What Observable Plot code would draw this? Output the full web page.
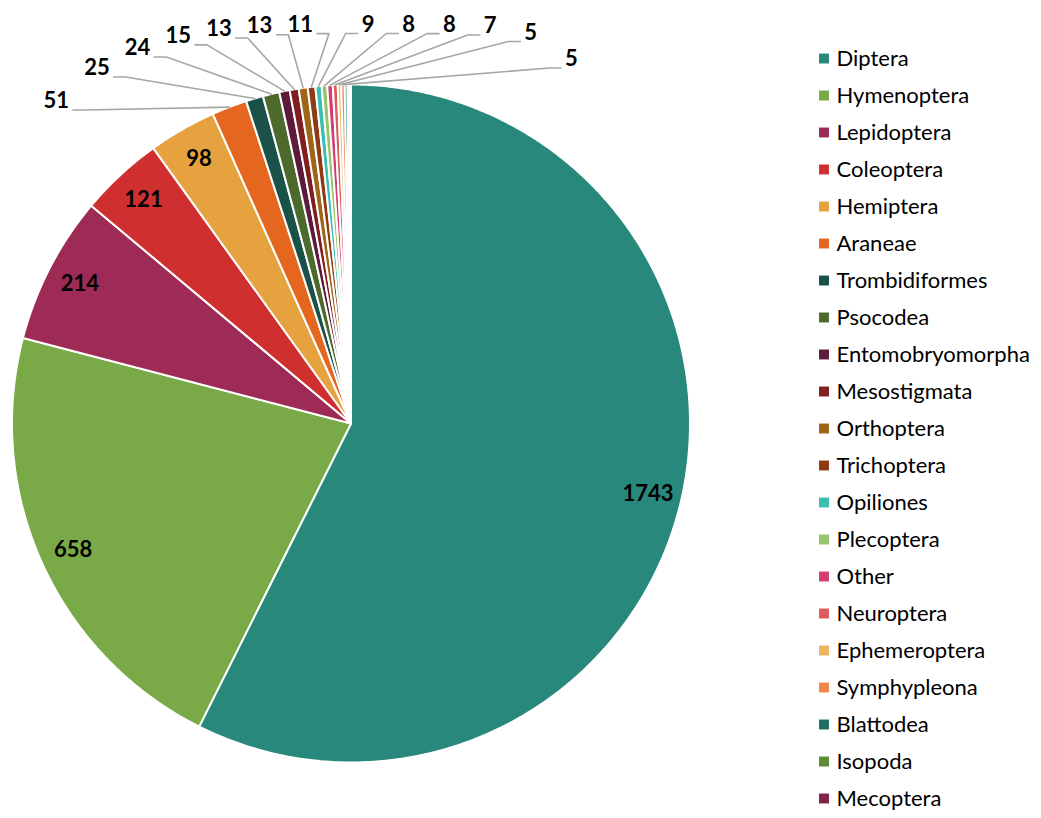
<!DOCTYPE html>
<html><head><meta charset="utf-8">
<script src="https://cdn.jsdelivr.net/npm/d3@7"></script>
<script src="https://cdn.jsdelivr.net/npm/@observablehq/plot@0.6"></script>
<style>
html,body{margin:0;padding:0;background:#fff;}
#wrap{position:relative;width:1041px;height:818px;overflow:hidden;}
#pie{position:absolute;left:0;top:0;}
#legend{position:absolute;left:800px;top:0;}
</style></head><body>
<div id="wrap"><div id="pie"></div><div id="legend"></div></div>
<script>
// ---- data ----
const categories = ["Diptera","Hymenoptera","Lepidoptera","Coleoptera","Hemiptera","Araneae","Trombidiformes","Psocodea","Entomobryomorpha","Mesostigmata","Orthoptera","Trichoptera","Opiliones","Plecoptera","Other","Neuroptera","Ephemeroptera","Symphypleona","Blattodea","Isopoda","Mecoptera"];
const counts = [1743,658,214,121,98,51,25,24,15,13,13,11,9,8,8,7,5,5,4,3,2];
const palette = ["#28887C","#7AAA48","#9E2A56","#CF2F2F","#E6A23F","#E5671F","#1A5249","#4B6A2C","#5E1A3B","#801F22","#9F6517","#8E3A13","#38BFAE","#97C369","#D43B73","#DD5A5A","#EDB762","#EF894B","#1F6E62","#5F8B38","#7E2347"];
const insideLabelCount = 5;   // largest slices labelled inside
const outsideLabelCount = 13; // next slices labelled with leader lines

// ---- geometry ----
const R_PX = 339;
const total = d3.sum(counts);
let cum = 0;
const slices = categories.map((c, i) => {
  const a0 = cum / total * 2 * Math.PI;
  cum += counts[i];
  const a1 = cum / total * 2 * Math.PI;
  return {c, v: counts[i], i, a0, a1, mid: (a0 + a1) / 2};
});

const polyPts = [];
for (const s of slices) {
  const n = Math.max(2, Math.ceil((s.a1 - s.a0) / (Math.PI / 360)));
  polyPts.push({c: s.c, x: 0, y: 0});
  for (let k = 0; k <= n; k++) {
    const a = s.a0 + (s.a1 - s.a0) * k / n;
    polyPts.push({c: s.c, x: Math.sin(a), y: Math.cos(a)});
  }
  polyPts.push({c: s.c, x: 0, y: 0});
}

const inside = slices.slice(0, insideLabelCount).map(s => ({
  text: String(s.v), x: 0.9 * Math.sin(s.mid), y: 0.9 * Math.cos(s.mid)
}));

// outside labels spread along a flattened (superelliptic) arc above the pie
const arcLeft = -278 / R_PX, arcRight = 210 / R_PX, arcB = 390 / R_PX;
const leftShape = {a: 355 / R_PX, n: 3}, rightShape = {a: 242 / R_PX, n: 6};
const outSl = slices.slice(insideLabelCount, insideLabelCount + outsideLabelCount);
const outside = outSl.map((s, k) => {
  const x = arcLeft + (arcRight - arcLeft) * k / (outSl.length - 1);
  const {a, n} = x < 0 ? leftShape : rightShape;
  const y = arcB * Math.pow(Math.max(0, 1 - Math.pow(Math.abs(x / a), n)), 1 / n);
  const side = x < 0 ? 1 : -1; // line leaves toward right for left labels
  return {text: String(s.v), c: s.c, x, y, side,
          ex: x + side * 12 / R_PX, sx: Math.sin(s.mid), sy: Math.cos(s.mid)};
});
const leaderPts = outside.flatMap(o => [
  {c: o.c, x: o.x, y: o.y},
  {c: o.c, x: o.ex, y: o.y},
  {c: o.c, x: o.sx, y: o.sy}
]);

const colorScale = {domain: categories, range: palette};
const font = "Lato, 'Open Sans', sans-serif";
const labelSize = 22;

const pie = Plot.plot({
  width: 800, height: 818, margin: 0,
  style: {fontFamily: font, background: "white", overflow: "visible"},
  x: {domain: [-1, 1], range: [11.5, 689.5], axis: null},
  y: {domain: [-1, 1], range: [762, 84], axis: null},
  color: colorScale,
  marks: [
    Plot.line(polyPts, {x: "x", y: "y", z: "c", fill: "c", stroke: "white", strokeWidth: 2, strokeLinejoin: "round", curve: "linear"}),
    Plot.line(leaderPts, {x: "x", y: "y", z: "c", stroke: "#A6A6A6", strokeWidth: 1.6, curve: "linear"}),
    Plot.text(inside, {x: "x", y: "y", text: "text", fontSize: labelSize, fontWeight: "bold", fill: "black"}),
    Plot.text(outside.filter(o => o.side > 0), {x: "x", y: "y", text: "text", textAnchor: "end", dx: -4, lineAnchor: "bottom", dy: -2, fontSize: labelSize, fontWeight: "bold", fill: "black"}),
    Plot.text(outside.filter(o => o.side < 0), {x: "x", y: "y", text: "text", textAnchor: "start", dx: 4, lineAnchor: "bottom", dy: -2, fontSize: labelSize, fontWeight: "bold", fill: "black"})
  ]
});
document.getElementById("pie").appendChild(pie);

const legend = Plot.plot({
  width: 241, height: 818, margin: 0,
  style: {fontFamily: font, background: "white", overflow: "visible"},
  y: {type: "point", domain: categories, range: [52, 804], padding: 0, axis: null},
  color: colorScale,
  marks: [
    Plot.dot(categories, {y: d => d, fill: d => d, symbol: "square", r: 5.6, frameAnchor: "left", dx: 23.5}),
    Plot.text(categories, {y: d => d, text: d => d, frameAnchor: "left", dx: 36, textAnchor: "start", fontSize: 22, fill: "black"})
  ]
});
document.getElementById("legend").appendChild(legend);
</script>
</body></html>
